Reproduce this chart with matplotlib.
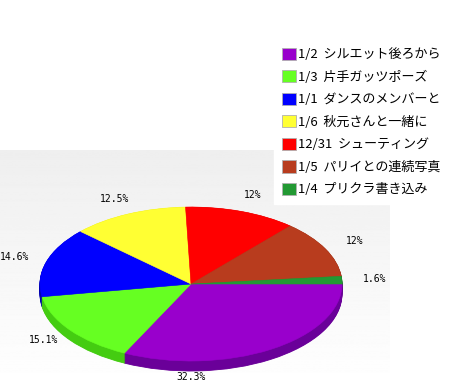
import matplotlib
matplotlib.use('Agg')
import matplotlib.pyplot as plt
import numpy as np
from matplotlib.patches import Patch

categories = ['1/2  シルエット後ろから', '1/3  片手ガッツポーズ', '1/1  ダンスのメンバーと',
              '1/6  秋元さんと一緒に', '12/31  シューティング', '1/5  パリイとの連続写真',
              '1/4  プリクラ書き込み']
values = [32.3, 15.1, 14.6, 12.5, 12.0, 12.0, 1.6]
pct_labels = ['32.3%', '15.1%', '14.6%', '12.5%', '12%', '12%', '1.6%']
top_colors = ['#9900cc', '#66ff22', '#0000ff', '#ffff33', '#ff0000', '#b83c1e', '#229933']
side_colors = ['#6a0099', '#44cc11', '#0000b0', '#cccc00', '#b00000', '#7f2a14', '#15661f']

W, H = 474, 387
fig = plt.figure(figsize=(W / 100, H / 100), dpi=100)

# background gradient panel
bg = fig.add_axes([0, 0, 390 / W, 237 / H])
grad = np.linspace(0.935, 1.0, 256)[:, None]
bg.imshow(grad, cmap='gray', vmin=0, vmax=1, aspect='auto', extent=[0, 1, 0, 1], origin='upper')
bg.axis('off')

# pie axes: center (191, 284 from top), rx=151 px, ry=77 px
cx, cy = 191, H - 284
rx, ry = 151, 77
span = 1.5
ax = fig.add_axes([(cx - span * rx) / W, (cy - span * ry) / H,
                   2 * span * rx / W, 2 * span * ry / H])
ax.patch.set_alpha(0)

depth = 10 / ry
for d in np.linspace(depth, 0.005, 14):
    ax.pie(values, colors=side_colors, startangle=0, counterclock=False,
           center=(0, -d), wedgeprops=dict(linewidth=0.6, edgecolor=None))
    for w, c in zip(ax.patches[-len(values):], side_colors):
        w.set_edgecolor(c)

wedges, texts = ax.pie(values, colors=top_colors, startangle=0, counterclock=False,
                       labels=pct_labels, labeldistance=1.22,
                       textprops=dict(family='DejaVu Sans Mono', fontsize=7, color='black'),
                       wedgeprops=dict(linewidth=0.4))
for w, c in zip(wedges, top_colors):
    w.set_edgecolor(c)
for t in texts:
    t.set_ha('center')
    t.set_va('center')
# largest slice label sits straight below the pie
texts[0].set_position((0, -1.21))

ax.set_aspect('auto')
ax.set_xlim(-span, span)
ax.set_ylim(-span, span)
ax.axis('off')

handles = [Patch(facecolor=c, edgecolor='#b0b0b0', linewidth=0.6) for c in top_colors]
leg = fig.legend(handles, categories, loc='upper left',
                 bbox_to_anchor=(274 / W, 1 - 40 / H),
                 prop=dict(family=['Noto Sans CJK JP', 'DejaVu Sans'], size=9.4),
                 handlelength=1.05, handleheight=1.05, handletextpad=0.15,
                 labelspacing=0.69, borderpad=0.6, borderaxespad=0,
                 frameon=True, fancybox=False, framealpha=1, facecolor='white',
                 edgecolor='white')

fig.savefig('out.png', dpi=100)
